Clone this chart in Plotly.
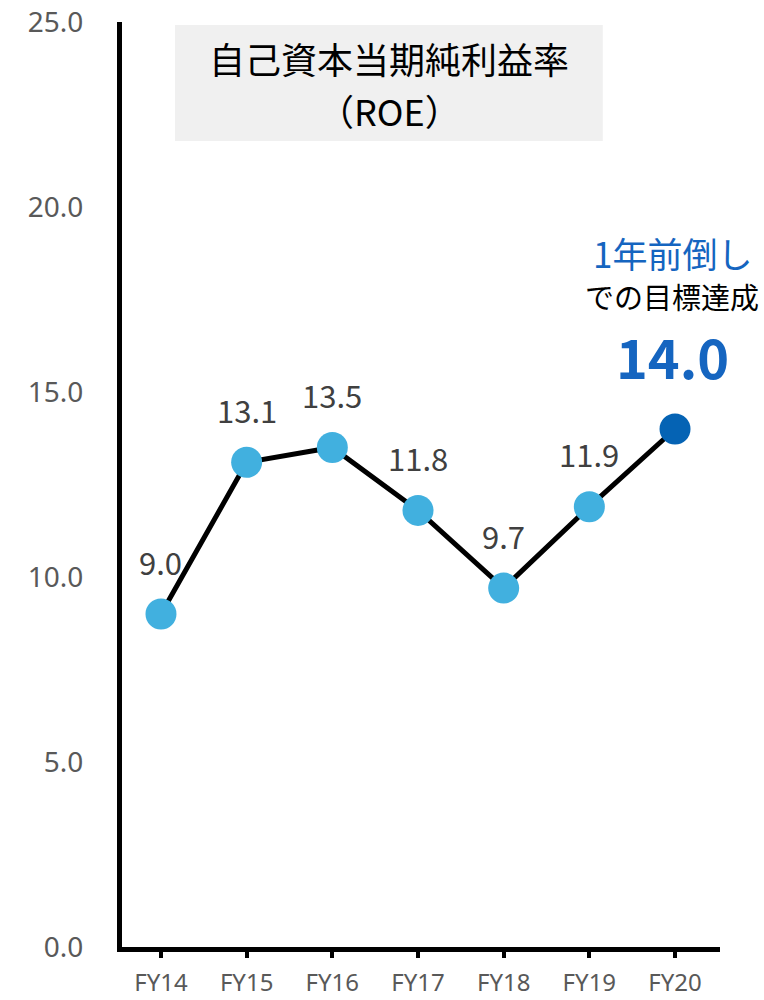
import plotly.graph_objects as go

categories = ["FY14", "FY15", "FY16", "FY17", "FY18", "FY19", "FY20"]
roe = [9.0, 13.1, 13.5, 11.8, 9.7, 11.9, 14.0]
value_labels = ["9.0", "13.1", "13.5", "11.8", "9.7", "11.9", ""]
title_lines = ["自己資本当期純利益率", "（ROE）"]
note_line1 = "1年前倒し"
note_line2 = "での目標達成"
note_value = "14.0"

FONT = "Noto Sans CJK JP, Noto Sans, sans-serif"
LATIN = "Noto Sans, sans-serif"
light = "#41B0DF"
dark = "#0563B4"
marker_colors = [light] * (len(roe) - 1) + [dark]

fig = go.Figure()
fig.add_trace(go.Scatter(
    x=categories, y=roe, mode="lines+markers",
    line=dict(color="black", width=5),
    marker=dict(color=marker_colors, size=31, line=dict(width=0), opacity=1),
    hoverinfo="skip", showlegend=False,
))

for c, v, t in zip(categories, roe, value_labels):
    if t:
        fig.add_annotation(x=c, y=v, text=t, showarrow=False, yshift=53,
                           xanchor="center", yanchor="middle",
                           font=dict(family=FONT, size=31, color="#404040"))

# title box
fig.add_shape(type="rect", xref="x domain", yref="y domain",
              x0=0.0886, x1=0.804, y0=0.8714, y1=0.9968,
              fillcolor="#F0F0F0", line=dict(width=0), layer="below")
for line_text, yd in zip(title_lines, [0.9611, 0.9049]):
    fig.add_annotation(xref="x domain", yref="y domain", x=0.4465, y=yd,
                       text=line_text, showarrow=False,
                       xanchor="center", yanchor="middle",
                       font=dict(family=FONT, size=36, color="black"))

# right-side note
fig.add_annotation(x=categories[-1], y=18.76, xshift=-3, text=note_line1, showarrow=False,
                   xanchor="center", yanchor="middle",
                   font=dict(family=FONT, size=35, color="#1565C0"))
fig.add_annotation(x=categories[-1], y=17.6, xshift=-3, text=note_line2, showarrow=False,
                   xanchor="center", yanchor="middle",
                   font=dict(family=FONT, size=29, color="black"))
fig.add_annotation(x=categories[-1], y=16.0, xshift=-3, text="<b>" + note_value + "</b>", showarrow=False,
                   xanchor="center", yanchor="middle",
                   font=dict(family=FONT, size=54, color="#1565C0"))

fig.update_layout(
    width=764, height=1000,
    margin=dict(l=122, r=44, t=22, b=53, autoexpand=False),
    paper_bgcolor="white", plot_bgcolor="white",
    font=dict(family=FONT),
    xaxis=dict(type="category", range=[-0.455, 6.525], showgrid=False, zeroline=False,
               automargin=False, ticklabeloverflow="allow",
               showline=True, linewidth=5, linecolor="black",
               ticks="outside", ticklen=6, tickwidth=4, tickcolor="black",
               ticklabelstandoff=4,
               tickfont=dict(family=LATIN, size=24, color="#595959")),
    yaxis=dict(range=[0, 25], dtick=5, tickformat=".1f", showgrid=False, zeroline=False,
               automargin=False, ticklabeloverflow="allow",
               showline=True, linewidth=5, linecolor="black", ticks="",
               ticklabelstandoff=28,
               tickfont=dict(family=LATIN, size=28, color="#595959")),
)

fig.write_html("out.html", config={"displayModeBar": False},
               post_script="document.body.style.margin='0';")
